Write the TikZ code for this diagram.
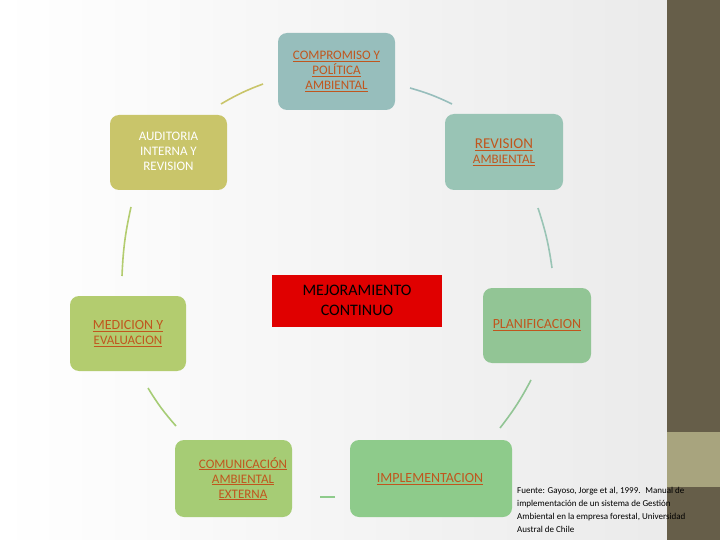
\documentclass[tikz,border=0pt]{standalone}
\usepackage{fontspec}
\setmainfont{Carlito}
\definecolor{lnk}{HTML}{C0561E}
\definecolor{cA}{HTML}{97BEBC}
\definecolor{cB}{HTML}{C9C56A}
\definecolor{cC}{HTML}{99C4B5}
\definecolor{cD}{HTML}{B3CC6F}
\definecolor{cE}{HTML}{92C595}
\definecolor{cF}{HTML}{A6CC75}
\definecolor{cG}{HTML}{8ECB8B}
\definecolor{bar}{HTML}{665E49}
\definecolor{band}{HTML}{A8A47E}
\begin{document}
\begin{tikzpicture}[x=1pt,y=-1pt,
 box/.style={align=center,font=\fontsize{13}{15}\selectfont,text=lnk,inner sep=0pt},
 arc/.style={line width=1.6pt}]
\useasboundingbox (0,0) rectangle (720,540);
\shade[left color=white,right color=black!8] (0,0) rectangle (667,540);
\fill[bar] (667,0) rectangle (720,540);
\fill[band] (667,432) rectangle (720,487);
\newcommand\bx[7]{\fill[#6,rounded corners=9pt] (#1,#2) rectangle (#3,#4);
 \node[box] (#5) at ({(#1+#3)/2},{(#2+#4)/2}) {#7};}
\bx{278}{33}{395}{110}{a}{cA}{\underline{COMPROMISO Y}\\\underline{POLÍTICA}\\\underline{AMBIENTAL}}
\fill[cB,rounded corners=9pt] (110,115) rectangle (227,190);
\node[box,text=white] (b) at (168.5,151) {AUDITORIA\\INTERNA Y\\REVISION};
\bx{445}{114}{563}{190}{c}{cC}{\fontsize{15}{17}\selectfont\underline{REVISION}\\\underline{AMBIENTAL}}
\fill[red!88!black] (272,275) rectangle (442,327);
\node[box,text=black,font=\fontsize{16}{20}\selectfont] (m) at (357,300) {MEJORAMIENTO\\CONTINUO};
\bx{70}{296}{186}{371}{d}{cD}{\fontsize{14}{15}\selectfont\underline{MEDICION Y}\\\underline{EVALUACION}}
\bx{483}{288}{591}{363}{e}{cE}{\fontsize{14}{15}\selectfont\underline{PLANIFICACION}}
\fill[cF,rounded corners=9pt] (175,440) rectangle (292,517);
\node[box,anchor=north] (f) at (243,457) {\fontsize{13}{15}\selectfont\underline{COMUNICACIÓN}\\\underline{AMBIENTAL}\\\underline{EXTERNA}};
\fill[cG,rounded corners=9pt] (350,440) rectangle (512,517);
\node[box] (g) at (430,479) {\fontsize{14}{15}\selectfont\underline{IMPLEMENTACION}};
\draw[arc,color=cB] (221,104) to[bend left=5] (263,84);
\draw[arc,color=cA] (410,88) to[bend left=5] (452,104);
\draw[arc,color=cC] (538,208) to[bend left=5] (552,268);
\draw[arc,color=cE] (531,380) to[bend left=5] (500,428);
\draw[arc,color=cG] (335,497) -- (320,497);
\draw[arc,color=cF] (148,388) to[bend right=5] (176,426);
\draw[arc,color=cD] (131,207) to[bend right=5] (122,276);
\node[anchor=north west,align=left,font=\fontsize{9}{13}\selectfont,inner sep=0pt] (s) at (517,487)
 {Fuente: Gayoso, Jorge et al, 1999. \ Manual de\\implementación de un sistema de Gestión\\Ambiental en la empresa forestal, Universidad\\Austral de Chile};
\end{tikzpicture}
\end{document}
